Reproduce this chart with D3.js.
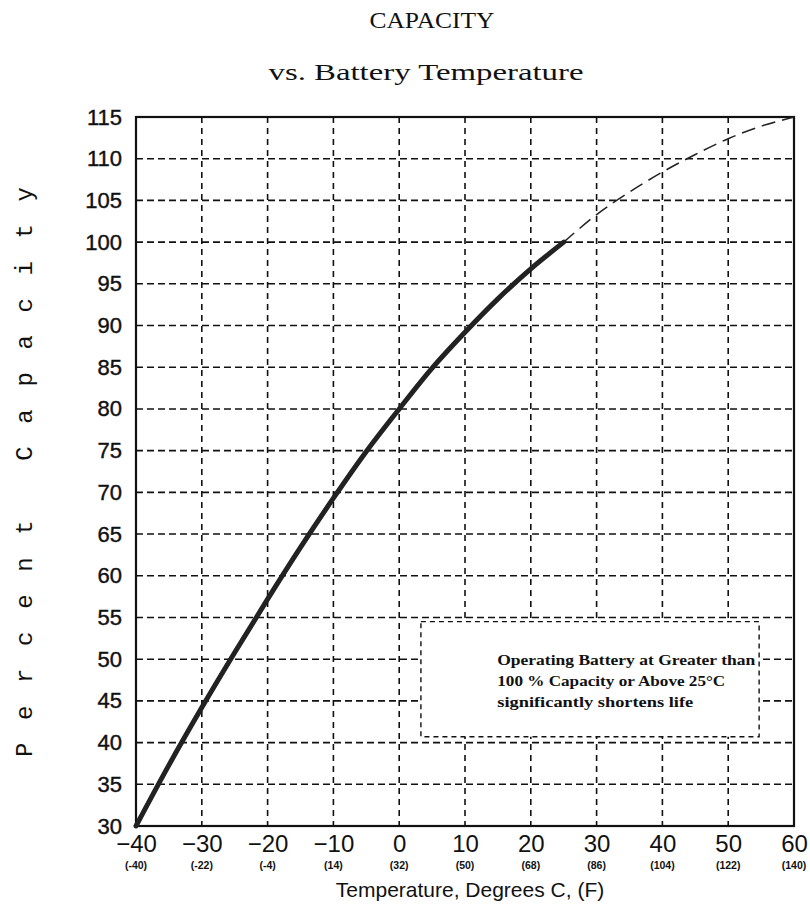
<!DOCTYPE html>
<html><head><meta charset="utf-8">
<script src="https://cdn.jsdelivr.net/npm/d3@7"></script>
<style>body{margin:0;background:#fff}</style>
</head><body>
<svg id="c" width="810" height="904"></svg>
<script>
const tempC = [-40,-30,-20,-10,0,10,20,30,40,50,60];
const tempF = ["(-40)","(-22)","(-4)","(14)","(32)","(50)","(68)","(86)","(104)","(122)","(140)"];
const capTicks = [30,35,40,45,50,55,60,65,70,75,80,85,90,95,100,105,110,115];
const solidT = [-40,-35,-30,-25,-20,-15,-10,-5,0,5,10,15,20,25];
const solidCap = [30,37.3,44.2,50.8,57.2,63.4,69.3,74.9,80,84.9,89.2,93.2,96.8,100];
const dashT = [25,30,35,40,45,50,55,60];
const dashCap = [100,103.3,106,108.4,110.5,112.4,113.9,115];
const noteLines = ["Operating Battery at Greater than","100 % Capacity or Above 25°C","significantly shortens life"];

const svg = d3.select("#c");
const x = d3.scaleLinear().domain([-40,60]).range([136,794]);
const y = d3.scaleLinear().domain([30,115]).range([826,117]);
const sans = "Liberation Sans, Arial, sans-serif";

// grid
const g = svg.append("g");
g.selectAll(".vg").data(tempC.slice(1,-1)).join("line")
  .attr("x1",d=>x(d)).attr("x2",d=>x(d)).attr("y1",y(115)).attr("y2",y(30))
  .attr("stroke","#111").attr("stroke-width",1.6).attr("stroke-dasharray","6,5");
g.selectAll(".hg").data(capTicks.slice(1,-1)).join("line")
  .attr("x1",x(-40)).attr("x2",x(60)).attr("y1",d=>y(d)).attr("y2",d=>y(d))
  .attr("stroke","#111").attr("stroke-width",1.6).attr("stroke-dasharray","7,4");

// note box
const bx0 = x(3.3), bx1 = x(54.7), by0 = y(54.5), by1 = y(40.7);
svg.append("rect").attr("x",bx0).attr("y",by0).attr("width",bx1-bx0).attr("height",by1-by0)
  .attr("fill","#fff").attr("stroke","#111").attr("stroke-width",1.4).attr("stroke-dasharray","5,4");
const noteW = [258,228,196];
svg.append("g").selectAll("text").data(noteLines).join("text")
  .attr("x",x(14.9)).attr("y",(d,i)=>y(49.3)+i*21)
  .attr("font-family","Liberation Serif, serif").attr("font-weight","bold").attr("font-size",14)
  .attr("textLength",(d,i)=>noteW[i]).attr("lengthAdjust","spacingAndGlyphs")
  .attr("fill","#111").text(d=>d);

// border
svg.append("rect").attr("x",x(-40)).attr("y",y(115)).attr("width",x(60)-x(-40)).attr("height",y(30)-y(115))
  .attr("fill","none").attr("stroke","#111").attr("stroke-width",2.2);

// curves
const line = d3.line().x(d=>x(d[0])).y(d=>y(d[1])).curve(d3.curveCatmullRom);
svg.append("path").datum(dashT.map((t,i)=>[t,dashCap[i]])).attr("d",line)
  .attr("fill","none").attr("stroke","#222").attr("stroke-width",1.5).attr("stroke-dasharray","14,7");
svg.append("path").datum(solidT.map((t,i)=>[t,solidCap[i]])).attr("d",line)
  .attr("fill","none").attr("stroke","#222").attr("stroke-width",5).attr("stroke-linecap","round");

// y axis labels
const ya = svg.append("g").attr("transform",`translate(${x(-40)},0)`)
  .call(d3.axisLeft(y).tickValues(capTicks).tickSize(0).tickPadding(14));
ya.select(".domain").remove();
ya.selectAll("text").attr("font-family",sans).attr("font-size",22).attr("fill","#111")
  .attr("stroke","#111").attr("stroke-width",0.4);

// x axis labels
const xa = svg.append("g").attr("transform",`translate(0,${y(30)})`)
  .call(d3.axisBottom(x).tickValues(tempC).tickSize(0).tickPadding(9));
xa.select(".domain").remove();
xa.selectAll("text").attr("font-family",sans).attr("font-size",24).attr("fill","#111");
svg.append("g").selectAll("text").data(tempC).join("text")
  .attr("x",d=>x(d)).attr("y",y(30)+43).attr("text-anchor","middle")
  .attr("font-family",sans).attr("font-size",10.5).attr("font-weight","bold")
  .attr("fill","#111").text((d,i)=>tempF[i]);

svg.append("text").attr("x",470).attr("y",897).attr("text-anchor","middle")
  .attr("font-family",sans).attr("font-size",21).attr("fill","#111")
  .text("Temperature, Degrees C, (F)");

// y title
svg.append("text").attr("transform","translate(32,472) rotate(-90)").attr("text-anchor","middle")
  .attr("font-family","Liberation Mono, monospace").attr("font-size",24).attr("fill","#111")
  .attr("textLength",570).attr("lengthAdjust","spacing").text("Percent Capacity");

// titles
svg.append("text").attr("x",432).attr("y",28).attr("text-anchor","middle")
  .attr("font-family","Liberation Serif, serif").attr("font-size",23).attr("fill","#111")
  .attr("textLength",125).attr("lengthAdjust","spacingAndGlyphs").text("CAPACITY");
svg.append("text").attr("x",426).attr("y",80).attr("text-anchor","middle")
  .attr("font-family","Liberation Serif, serif").attr("font-size",24).attr("fill","#111")
  .attr("textLength",315).attr("lengthAdjust","spacingAndGlyphs").text("vs. Battery Temperature");
</script>
</body></html>
